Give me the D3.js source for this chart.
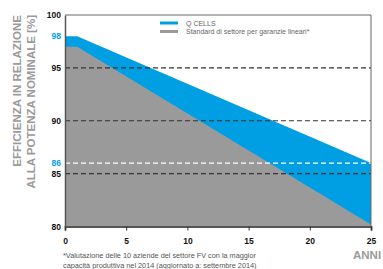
<!DOCTYPE html>
<html>
<head>
<meta charset="utf-8">
<script src="https://cdn.jsdelivr.net/npm/d3@7/dist/d3.min.js"></script>
<style>
  html, body { margin: 0; padding: 0; background: #fff; overflow: hidden; }
  svg { display: block; font-family: "Liberation Sans", Arial, sans-serif; }
</style>
</head>
<body>
<svg id="chart" width="383" height="269"></svg>
<script>
// chart data
const years = [0, 1, 25];
const qcells = [98, 98, 86];
const standard = [97, 97, 80.2];
const xTicks = [0, 5, 10, 15, 20, 25];
const yTicks = [100, 98, 95, 90, 86, 85, 80];
const blueTicks = [98, 86];
const darkDashed = [95, 90, 85];
const whiteDashed = [86];
const legendLabels = ['Q CELLS', 'Standard di settore per garanzie lineari*'];
const footnote = [
    '*Valutazione delle 10 aziende del settore FV con la maggior',
    'capacità produttiva nel 2014 (aggiornato a: settembre 2014)'
];

const BLUE = '#009fe3';
const GREY = '#9a9a9a';

const svg = d3.select('#chart');
const plotL = 65, plotR = 371, plotT = 15, plotB = 226.5;

const x = d3.scaleLinear().domain([0, 25]).range([plotL, plotR]);
const y = d3.scaleLinear().domain([80, 100]).range([plotB, plotT]);

svg.append('defs').append('clipPath').attr('id', 'plot')
    .append('rect')
    .attr('x', plotL).attr('y', plotT)
    .attr('width', plotR - plotL).attr('height', plotB - plotT);

const plot = svg.append('g').attr('clip-path', 'url(#plot)');

const area = vals => d3.area()
    .x((d, i) => x(years[i]))
    .y0(y(80))
    .y1((d, i) => y(vals[i]))(vals);

plot.append('path').attr('d', area(qcells)).attr('fill', BLUE);
plot.append('path').attr('d', area(standard)).attr('fill', GREY);

// dashed reference lines
plot.selectAll('.dk').data(darkDashed).enter().append('line')
    .attr('x1', plotL).attr('x2', plotR)
    .attr('y1', d => y(d)).attr('y2', d => y(d))
    .attr('stroke', '#333').attr('stroke-width', 1.2)
    .attr('stroke-dasharray', '5,3');

plot.selectAll('.wh').data(whiteDashed).enter().append('line')
    .attr('x1', plotL).attr('x2', plotR)
    .attr('y1', d => y(d)).attr('y2', d => y(d))
    .attr('stroke', '#fff').attr('stroke-width', 1.2)
    .attr('stroke-dasharray', '5,3');

// frame: top + right
svg.append('path')
    .attr('d', `M${plotL},${plotT}H${plotR}V${plotB}`)
    .attr('fill', 'none').attr('stroke', '#666').attr('stroke-width', 1);

// x axis
const xAxis = svg.append('g')
    .attr('transform', `translate(0,${plotB})`)
    .call(d3.axisBottom(x).tickValues(xTicks).tickSize(4).tickPadding(7).tickFormat(d3.format('d')));
xAxis.select('.domain').attr('stroke', '#555').attr('stroke-width', 2);
xAxis.selectAll('.tick line').attr('stroke', '#333');
xAxis.selectAll('text')
    .attr('font-size', 8.5).attr('font-weight', 'bold').attr('fill', '#111')
    .attr('font-family', '"Liberation Sans", Arial, sans-serif');

// y axis
const yAxis = svg.append('g')
    .attr('transform', `translate(${plotL},0)`)
    .call(d3.axisLeft(y).tickValues(yTicks).tickSize(0).tickPadding(4));
yAxis.select('.domain').attr('stroke', '#555').attr('stroke-width', 1.5);
yAxis.selectAll('text')
    .attr('font-size', 8.5).attr('font-weight', 'bold')
    .attr('font-family', '"Liberation Sans", Arial, sans-serif')
    .attr('fill', d => blueTicks.includes(d) ? BLUE : '#111');

// y title
const yTitle = ['EFFICIENZA IN RELAZIONE', 'ALLA POTENZA NOMINALE [%]'];
svg.selectAll('.ytitle').data(yTitle).enter().append('text')
    .attr('transform', (d, i) => `translate(${21 + i * 14},15) rotate(-90)`)
    .attr('text-anchor', 'end')
    .attr('font-size', 11.5).attr('font-weight', 'bold')
    .attr('fill', '#9a9a9a')
    .text(d => d);

// legend
const legend = svg.append('g');
[BLUE, GREY].forEach((c, i) => {
    legend.append('rect')
        .attr('x', 160).attr('y', 21.5 + i * 8.5)
        .attr('width', 18).attr('height', 3).attr('fill', c);
    legend.append('text')
        .attr('x', 186).attr('y', 25.5 + i * 8.5)
        .attr('font-size', 7).attr('fill', '#666')
        .text(legendLabels[i]);
});

// x title
svg.append('text')
    .attr('x', 353).attr('y', 258.5)
    .attr('font-size', 11.5).attr('font-weight', 'bold').attr('fill', '#9a9a9a')
    .text('ANNI');

// footnote
svg.selectAll('.fn').data(footnote).enter().append('text')
    .attr('x', 63).attr('y', (d, i) => 258 + i * 10)
    .attr('font-size', 7.3).attr('fill', '#555')
    .text(d => d);
</script>
</body>
</html>
